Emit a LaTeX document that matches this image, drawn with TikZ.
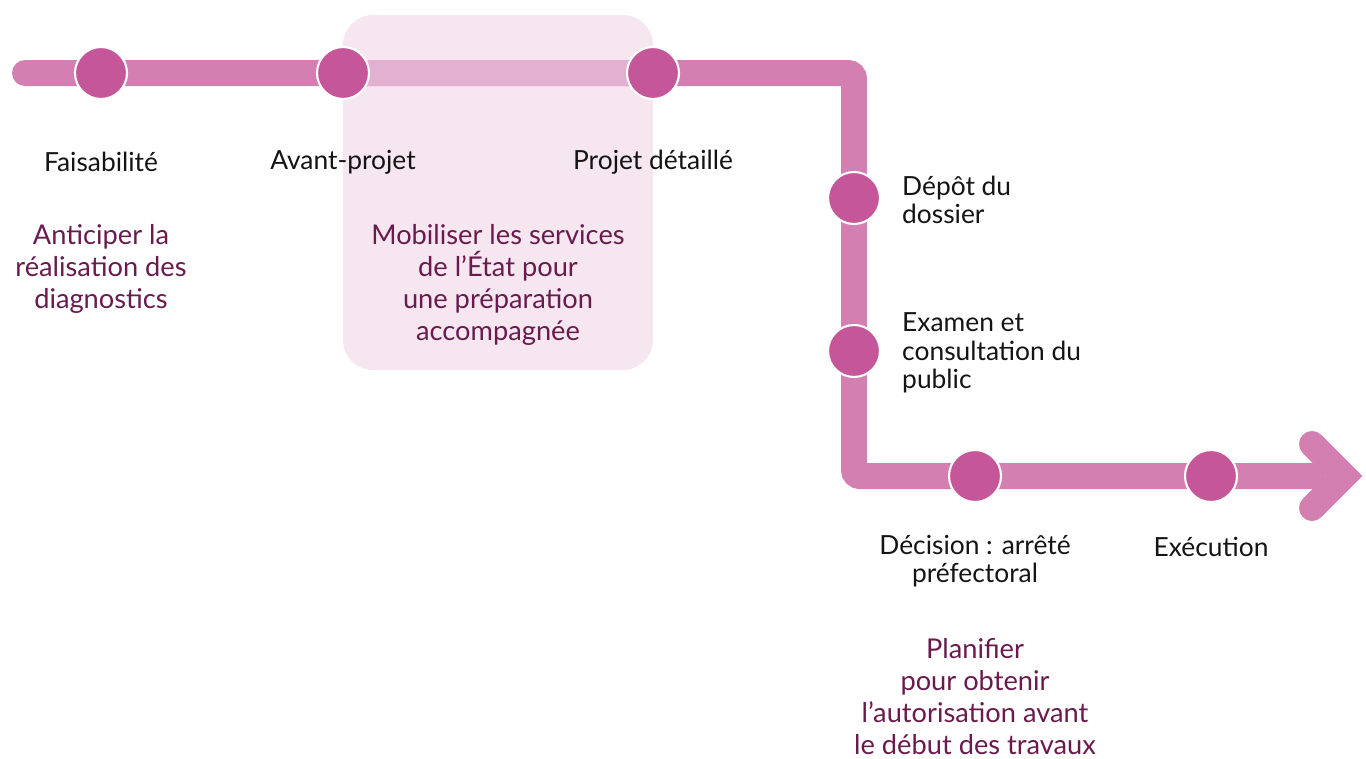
\documentclass[tikz,border=0pt]{standalone}
\usepackage{fontspec}
\setmainfont{Lato}
\usetikzlibrary{positioning, backgrounds}

\definecolor{trackpink}{HTML}{D47FB2}
\definecolor{tracklight}{HTML}{E2B0D0}
\definecolor{dotpink}{HTML}{C5569A}
\definecolor{boxpink}{HTML}{F5E6F0}
\definecolor{plum}{HTML}{6A1B4D}

\begin{document}
\begin{tikzpicture}[x = 0.02cm, y = -0.02cm,
    track/.style = {line width = 0.52cm, color = trackpink, line cap = round, rounded corners = 0.12cm},
    stage/.style = {circle, fill = dotpink, draw = white, line width = 1.2pt, minimum size = 1.04cm, inner sep = 0pt},
    stagelabel/.style = {font = \fontsize{15}{16.2}\selectfont, text = black!92, align = center},
    goal/.style = {font = \fontsize{15.5}{18.2}\selectfont, text = plum, align = center, inner sep = 0pt}]
    \useasboundingbox (0,0) rectangle (1366,758);

    % stages
    \node[stage] (faisa) at (101,73) {};
    \node[stage] (avant) at (343,73) {};
    \node[stage] (projet) at (653,73) {};
    \node[stage] (depot) at (854,198) {};
    \node[stage] (examen) at (854,351) {};
    \node[stage] (decision) at (975,476) {};
    \node[stage] (execution) at (1211,476) {};
    \coordinate (start) at (25,73);
    \coordinate (turnA) at (854,73);
    \coordinate (turnB) at (854,476);
    \coordinate (stop) at (1312,476);
    \coordinate (tip) at (1344,476);

    \begin{scope}[on background layer]
        \fill[boxpink, rounded corners = 0.6cm] (343,15) rectangle (653,370);
        \draw[track] (start) -- (faisa.center) -- (avant.center) -- (projet.center) -- (turnA)
            -- (depot.center) -- (examen.center) -- (turnB) -- (decision.center)
            -- (execution.center) -- (stop);
        \draw[track, tracklight, line cap = butt] (avant.center) -- (projet.center);
        \draw[track, rounded corners = 0pt, line join = miter] (1312,444) -- (tip) -- (1312,508);
    \end{scope}

    % labels
    \node[stagelabel] at (101,162) {Faisabilité};
    \node[stagelabel] at (343,162) {Avant-projet};
    \node[stagelabel] at (653,162) {Projet détaillé};
    \node[stagelabel, align = left, anchor = west] at (896,200) {Dépôt du\\dossier};
    \node[stagelabel, align = left, anchor = west] at (896,353) {Examen et\\consultation du\\public};
    \node[stagelabel] at (975,561) {Décision : arrêté\\préfectoral};
    \node[stagelabel] at (1211,547) {Exécution};

    % goals
    \node[goal] at (101,269) {Anticiper la\\réalisation des\\diagnostics};
    \node[goal] at (498,285) {Mobiliser les services\\de l’État pour\\une préparation\\accompagnée};
    \node[goal] at (975,697) {Planifier\\pour obtenir\\l’autorisation avant\\le début des travaux};
\end{tikzpicture}
\end{document}
